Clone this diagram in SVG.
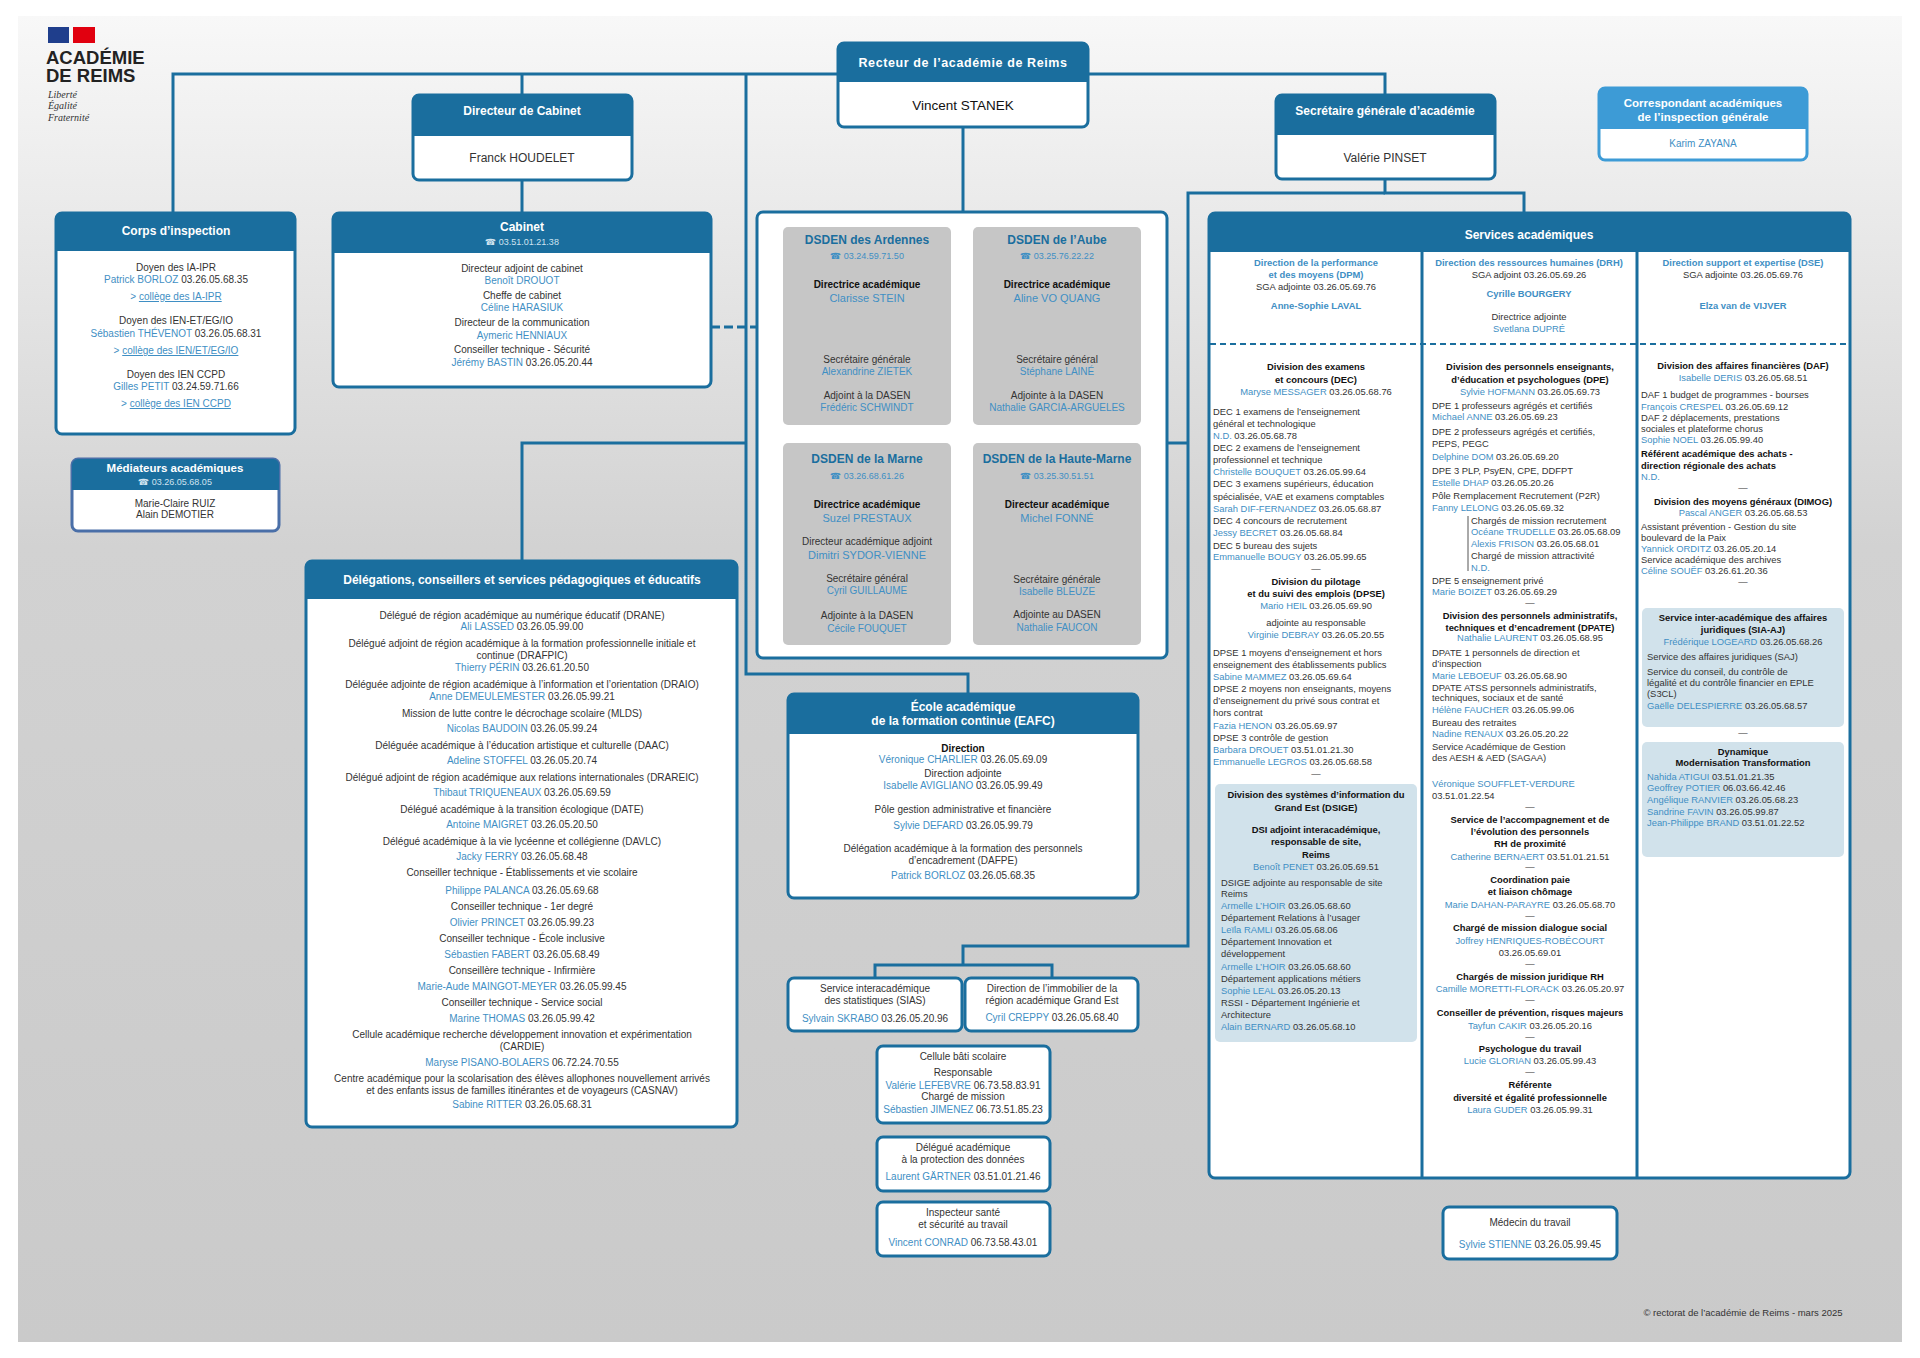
<svg xmlns="http://www.w3.org/2000/svg" width="1920" height="1358" viewBox="0 0 1920 1358">
<defs>
<linearGradient id="bg" x1="0" y1="0" x2="0" y2="1">
<stop offset="0" stop-color="#f8f8f8"/><stop offset="0.4" stop-color="#d2d2d2"/><stop offset="1" stop-color="#cacaca"/>
</linearGradient>
<style>
.box{fill:#fff;stroke:#1a6e9e;stroke-width:3}
.hd{fill:#1a6e9e}
.hd2{fill:#3d9bd6}
.g{fill:#c6c6c6}
.lb{fill:#d1e2eb}
.t{font-family:"Liberation Sans",Arial,sans-serif;font-size:10px;fill:#333;text-anchor:middle}
.s{font-size:9.4px}
.l{text-anchor:start}
.b{font-weight:bold}
.k{fill:#111}
.n{fill:#3f8fc4}
.lt{fill:#cfe3f0;font-size:9px}
.w{fill:#fff;font-weight:bold;font-size:12px}
.ti{fill:#1a6e9e;font-weight:bold;font-size:12px}
.u{text-decoration:underline}
.ph{font-family:"DejaVu Sans",sans-serif}
.c{fill:none;stroke:#1a6e9e;stroke-width:3}
</style>
</defs>
<rect width="1920" height="1358" fill="#fff"/>
<rect x="18" y="16" width="1884" height="1326" fill="url(#bg)"/>

<g id="logo">
<rect x="48" y="27" width="21" height="16" fill="#1f3e8c"/>
<rect x="73" y="27" width="22" height="16" fill="#e1000f"/>
<text x="46" y="64" font-family="Liberation Sans,Arial,sans-serif" font-weight="bold" font-size="18.5" fill="#222">ACADÉMIE</text>
<text x="46" y="82" font-family="Liberation Sans,Arial,sans-serif" font-weight="bold" font-size="18.5" fill="#222">DE REIMS</text>
<text x="48" y="98" font-family="Liberation Serif,serif" font-style="italic" font-size="10" fill="#333">Liberté</text>
<text x="48" y="109" font-family="Liberation Serif,serif" font-style="italic" font-size="10" fill="#333">Égalité</text>
<text x="48" y="121" font-family="Liberation Serif,serif" font-style="italic" font-size="10" fill="#333">Fraternité</text>
</g>

<g id="connectors" class="c">
<path d="M173,213 V74 H1385 V95"/>
<path d="M522,74 V95 M522,180 V213"/>
<path d="M746,74 V674 H968 V694"/>
<path d="M963,127 V212"/>
<path d="M711,327 H757" stroke-dasharray="9,4"/>
<path d="M522,561 V443 H746"/>
<path d="M1167,443 H1188"/>
<path d="M1385,179 V193 H1524 V213"/>
<path d="M1385,193 H1188 V946 H963 V965"/>
<path d="M875,978 V965 H1052 V978"/>
</g>

<g id="recteur">
<rect class="box" x="838" y="43" width="250" height="84" rx="6"/>
<rect class="hd" x="838" y="43" width="250" height="39" rx="6"/><rect class="hd" x="838" y="60" width="250" height="22"/>
<text class="t w" x="963" y="67" style="font-size:12.5px" letter-spacing="0.6">Recteur de l’académie de Reims</text>
<text class="t k" x="963" y="110" style="font-size:13.5px">Vincent STANEK</text>
</g>

<g id="dircab">
<rect class="box" x="413" y="95" width="219" height="85" rx="6"/>
<rect class="hd" x="413" y="95" width="219" height="41" rx="6"/><rect class="hd" x="413" y="112" width="219" height="24"/>
<text class="t w" x="522" y="115">Directeur de Cabinet</text>
<text class="t" x="522" y="162" style="font-size:12px">Franck HOUDELET</text>
</g>

<g id="sga">
<rect class="box" x="1276" y="95" width="219" height="84" rx="6"/>
<rect class="hd" x="1276" y="95" width="219" height="40" rx="6"/><rect class="hd" x="1276" y="112" width="219" height="23"/>
<text class="t w" x="1385" y="115">Secrétaire générale d’académie</text>
<text class="t" x="1385" y="162" style="font-size:12px">Valérie PINSET</text>
</g>

<g id="correspondant">
<rect x="1599" y="88" width="208" height="72" rx="6" fill="#fff" stroke="#3d9bd6" stroke-width="3"/>
<rect class="hd2" x="1599" y="88" width="208" height="41" rx="6"/><rect class="hd2" x="1599" y="105" width="208" height="24"/>
<text class="t w" x="1703" y="107" style="font-size:11.5px">Correspondant académiques</text>
<text class="t w" x="1703" y="121" style="font-size:11.5px">de l’inspection générale</text>
<text class="t n" x="1703" y="147">Karim ZAYANA</text>
</g>

<g id="corps">
<rect class="box" x="56" y="213" width="239" height="221" rx="6"/>
<rect class="hd" x="56" y="213" width="239" height="38" rx="6"/><rect class="hd" x="56" y="230" width="239" height="21"/>
<text class="t w" x="176" y="235">Corps d’inspection</text>
<text class="t" x="176" y="271">Doyen des IA-IPR</text>
<text class="t" x="176" y="283"><tspan class="n">Patrick BORLOZ</tspan> 03.26.05.68.35</text>
<text class="t n" x="176" y="300">&gt; <tspan class="u">collège des IA-IPR</tspan></text>
<text class="t" x="176" y="324">Doyen des IEN-ET/EG/IO</text>
<text class="t" x="176" y="337"><tspan class="n">Sébastien THÉVENOT</tspan> 03.26.05.68.31</text>
<text class="t n" x="176" y="354">&gt; <tspan class="u">collège des IEN/ET/EG/IO</tspan></text>
<text class="t" x="176" y="378">Doyen des IEN CCPD</text>
<text class="t" x="176" y="390"><tspan class="n">Gilles PETIT</tspan> 03.24.59.71.66</text>
<text class="t n" x="176" y="407">&gt; <tspan class="u">collège des IEN CCPD</tspan></text>
</g>

<g id="mediateurs">
<rect class="box" x="72" y="459" width="207" height="72" rx="6" style="stroke:#4a6fa8"/>
<rect class="hd" x="72" y="459" width="207" height="31" rx="6"/><rect class="hd" x="72" y="474" width="207" height="16"/>
<text class="t w" x="175" y="472" style="font-size:11.5px">Médiateurs académiques</text>
<text class="t lt" x="175" y="485"><tspan class="ph">☎</tspan> 03.26.05.68.05</text>
<text class="t" x="175" y="507">Marie-Claire RUIZ</text>
<text class="t" x="175" y="518">Alain DEMOTIER</text>
</g>

<g id="cabinet">
<rect class="box" x="333" y="213" width="378" height="174" rx="6"/>
<rect class="hd" x="333" y="213" width="378" height="40" rx="6"/><rect class="hd" x="333" y="230" width="378" height="23"/>
<text class="t w" x="522" y="231">Cabinet</text>
<text class="t lt" x="522" y="245"><tspan class="ph">☎</tspan> 03.51.01.21.38</text>
<text class="t" x="522" y="272">Directeur adjoint de cabinet</text>
<text class="t n" x="522" y="284">Benoît DROUOT</text>
<text class="t" x="522" y="299">Cheffe de cabinet</text>
<text class="t n" x="522" y="311">Céline HARASIUK</text>
<text class="t" x="522" y="326">Directeur de la communication</text>
<text class="t n" x="522" y="339">Aymeric HENNIAUX</text>
<text class="t" x="522" y="353">Conseiller technique - Sécurité</text>
<text class="t" x="522" y="366"><tspan class="n">Jérémy BASTIN</tspan> 03.26.05.20.44</text>
</g>

<g id="dsden">
<rect x="757" y="212" width="410" height="446" rx="6" fill="#fff" stroke="#1a6e9e" stroke-width="3"/>
<rect class="g" x="783" y="227" width="168" height="198" rx="5"/>
<rect class="g" x="973" y="227" width="168" height="198" rx="5"/>
<rect class="g" x="783" y="443" width="168" height="202" rx="5"/>
<rect class="g" x="973" y="443" width="168" height="202" rx="5"/>
<text class="t ti" x="867" y="244">DSDEN des Ardennes</text>
<text class="t n" x="867" y="259" style="font-size:9px"><tspan class="ph">☎</tspan> 03.24.59.71.50</text>
<text class="t b k" x="867" y="288">Directrice académique</text>
<text class="t n" x="867" y="302" style="font-size:11px">Clarisse STEIN</text>
<text class="t" x="867" y="363">Secrétaire générale</text>
<text class="t n" x="867" y="375">Alexandrine ZIETEK</text>
<text class="t" x="867" y="399">Adjoint à la DASEN</text>
<text class="t n" x="867" y="411">Frédéric SCHWINDT</text>

<text class="t ti" x="1057" y="244">DSDEN de l’Aube</text>
<text class="t n" x="1057" y="259" style="font-size:9px"><tspan class="ph">☎</tspan> 03.25.76.22.22</text>
<text class="t b k" x="1057" y="288">Directrice académique</text>
<text class="t n" x="1057" y="302" style="font-size:11px">Aline VO QUANG</text>
<text class="t" x="1057" y="363">Secrétaire général</text>
<text class="t n" x="1057" y="375">Stéphane LAINÉ</text>
<text class="t" x="1057" y="399">Adjointe à la DASEN</text>
<text class="t n" x="1057" y="411">Nathalie GARCIA-ARGUELES</text>

<text class="t ti" x="867" y="463">DSDEN de la Marne</text>
<text class="t n" x="867" y="479" style="font-size:9px"><tspan class="ph">☎</tspan> 03.26.68.61.26</text>
<text class="t b k" x="867" y="508">Directrice académique</text>
<text class="t n" x="867" y="522" style="font-size:11px">Suzel PRESTAUX</text>
<text class="t" x="867" y="545">Directeur académique adjoint</text>
<text class="t n" x="867" y="559" style="font-size:11px">Dimitri SYDOR-VIENNE</text>
<text class="t" x="867" y="582">Secrétaire général</text>
<text class="t n" x="867" y="594">Cyril GUILLAUME</text>
<text class="t" x="867" y="619">Adjointe à la DASEN</text>
<text class="t n" x="867" y="632">Cécile FOUQUET</text>

<text class="t ti" x="1057" y="463">DSDEN de la Haute-Marne</text>
<text class="t n" x="1057" y="479" style="font-size:9px"><tspan class="ph">☎</tspan> 03.25.30.51.51</text>
<text class="t b k" x="1057" y="508">Directeur académique</text>
<text class="t n" x="1057" y="522" style="font-size:11px">Michel FONNÉ</text>
<text class="t" x="1057" y="583">Secrétaire générale</text>
<text class="t n" x="1057" y="595">Isabelle BLEUZE</text>
<text class="t" x="1057" y="618">Adjointe au DASEN</text>
<text class="t n" x="1057" y="631">Nathalie FAUCON</text>
</g>

<g id="delegations">
<rect class="box" x="306" y="561" width="431" height="566" rx="6"/>
<rect class="hd" x="306" y="561" width="431" height="38" rx="6"/><rect class="hd" x="306" y="578" width="431" height="21"/>
<text class="t w" x="522" y="584">Délégations, conseillers et services pédagogiques et éducatifs</text>
<text class="t" x="522" y="619">Délégué de région académique au numérique éducatif (DRANE)</text>
<text class="t" x="522" y="630"><tspan class="n">Ali LASSED</tspan> 03.26.05.99.00</text>
<text class="t" x="522" y="647">Délégué adjoint de région académique à la formation professionnelle initiale et</text>
<text class="t" x="522" y="659">continue (DRAFPIC)</text>
<text class="t" x="522" y="671"><tspan class="n">Thierry PÉRIN</tspan> 03.26.61.20.50</text>
<text class="t" x="522" y="688">Déléguée adjointe de région académique à l’information et l’orientation (DRAIO)</text>
<text class="t" x="522" y="700"><tspan class="n">Anne DEMEULEMESTER</tspan> 03.26.05.99.21</text>
<text class="t" x="522" y="717">Mission de lutte contre le décrochage scolaire (MLDS)</text>
<text class="t" x="522" y="732"><tspan class="n">Nicolas BAUDOIN</tspan> 03.26.05.99.24</text>
<text class="t" x="522" y="749">Déléguée académique à l’éducation artistique et culturelle (DAAC)</text>
<text class="t" x="522" y="764"><tspan class="n">Adeline STOFFEL</tspan> 03.26.05.20.74</text>
<text class="t" x="522" y="781">Délégué adjoint de région académique aux relations internationales (DRAREIC)</text>
<text class="t" x="522" y="796"><tspan class="n">Thibaut TRIQUENEAUX</tspan> 03.26.05.69.59</text>
<text class="t" x="522" y="813">Délégué académique à la transition écologique (DATE)</text>
<text class="t" x="522" y="828"><tspan class="n">Antoine MAIGRET</tspan> 03.26.05.20.50</text>
<text class="t" x="522" y="845">Délégué académique à la vie lycéenne et collégienne (DAVLC)</text>
<text class="t" x="522" y="860"><tspan class="n">Jacky FERRY</tspan> 03.26.05.68.48</text>
<text class="t" x="522" y="876">Conseiller technique - Établissements et vie scolaire</text>
<text class="t" x="522" y="894"><tspan class="n">Philippe PALANCA</tspan> 03.26.05.69.68</text>
<text class="t" x="522" y="910">Conseiller technique - 1er degré</text>
<text class="t" x="522" y="926"><tspan class="n">Olivier PRINCET</tspan> 03.26.05.99.23</text>
<text class="t" x="522" y="942">Conseiller technique - École inclusive</text>
<text class="t" x="522" y="958"><tspan class="n">Sébastien FABERT</tspan> 03.26.05.68.49</text>
<text class="t" x="522" y="974">Conseillère technique - Infirmière</text>
<text class="t" x="522" y="990"><tspan class="n">Marie-Aude MAINGOT-MEYER</tspan> 03.26.05.99.45</text>
<text class="t" x="522" y="1006">Conseiller technique - Service social</text>
<text class="t" x="522" y="1022"><tspan class="n">Marine THOMAS</tspan> 03.26.05.99.42</text>
<text class="t" x="522" y="1038">Cellule académique recherche développement innovation et expérimentation</text>
<text class="t" x="522" y="1050">(CARDIE)</text>
<text class="t" x="522" y="1066"><tspan class="n">Maryse PISANO-BOLAERS</tspan> 06.72.24.70.55</text>
<text class="t" x="522" y="1082">Centre académique pour la scolarisation des élèves allophones nouvellement arrivés</text>
<text class="t" x="522" y="1094">et des enfants issus de familles itinérantes et de voyageurs (CASNAV)</text>
<text class="t" x="522" y="1108"><tspan class="n">Sabine RITTER</tspan> 03.26.05.68.31</text>
</g>

<g id="eafc">
<rect class="box" x="788" y="694" width="350" height="204" rx="6"/>
<rect class="hd" x="788" y="694" width="350" height="40" rx="6"/><rect class="hd" x="788" y="711" width="350" height="23"/>
<text class="t w" x="963" y="711">École académique</text>
<text class="t w" x="963" y="725">de la formation continue (EAFC)</text>
<text class="t b k" x="963" y="752">Direction</text>
<text class="t" x="963" y="763"><tspan class="n">Véronique CHARLIER</tspan> 03.26.05.69.09</text>
<text class="t" x="963" y="777">Direction adjointe</text>
<text class="t" x="963" y="789"><tspan class="n">Isabelle AVIGLIANO</tspan> 03.26.05.99.49</text>
<text class="t" x="963" y="813">Pôle gestion administrative et financière</text>
<text class="t" x="963" y="829"><tspan class="n">Sylvie DEFARD</tspan> 03.26.05.99.79</text>
<text class="t" x="963" y="852">Délégation académique à la formation des personnels</text>
<text class="t" x="963" y="864">d’encadrement (DAFPE)</text>
<text class="t" x="963" y="879"><tspan class="n">Patrick BORLOZ</tspan> 03.26.05.68.35</text>
</g>

<g id="sias">
<rect class="box" x="788" y="978" width="174" height="53" rx="6"/>
<text class="t" x="875" y="992">Service interacadémique</text>
<text class="t" x="875" y="1004">des statistiques (SIAS)</text>
<text class="t" x="875" y="1022"><tspan class="n">Sylvain SKRABO</tspan> 03.26.05.20.96</text>
</g>
<g id="immobilier">
<rect class="box" x="965" y="978" width="173" height="53" rx="6"/>
<text class="t" x="1052" y="992">Direction de l’immobilier de la</text>
<text class="t" x="1052" y="1004">région académique Grand Est</text>
<text class="t" x="1052" y="1021"><tspan class="n">Cyril CREPPY</tspan> 03.26.05.68.40</text>
</g>
<g id="bati">
<rect class="box" x="877" y="1046" width="173" height="77" rx="6"/>
<text class="t" x="963" y="1060">Cellule bâti scolaire</text>
<text class="t" x="963" y="1076">Responsable</text>
<text class="t" x="963" y="1089"><tspan class="n">Valérie LEFEBVRE</tspan> 06.73.58.83.91</text>
<text class="t" x="963" y="1100">Chargé de mission</text>
<text class="t" x="963" y="1113"><tspan class="n">Sébastien JIMENEZ</tspan> 06.73.51.85.23</text>
</g>
<g id="donnees">
<rect class="box" x="877" y="1137" width="173" height="54" rx="6"/>
<text class="t" x="963" y="1151">Délégué académique</text>
<text class="t" x="963" y="1163">à la protection des données</text>
<text class="t" x="963" y="1180"><tspan class="n">Laurent GÄRTNER</tspan> 03.51.01.21.46</text>
</g>
<g id="inspecteur">
<rect class="box" x="877" y="1202" width="173" height="54" rx="6"/>
<text class="t" x="963" y="1216">Inspecteur santé</text>
<text class="t" x="963" y="1228">et sécurité au travail</text>
<text class="t" x="963" y="1246"><tspan class="n">Vincent CONRAD</tspan> 06.73.58.43.01</text>
</g>

<g id="services">
<rect class="box" x="1209" y="213" width="641" height="965" rx="6"/>
<rect class="hd" x="1209" y="213" width="641" height="39" rx="6"/><rect class="hd" x="1209" y="230" width="641" height="22"/>
<text class="t w" x="1529" y="239">Services académiques</text>
<path d="M1422,252 V1178 M1637,252 V1178" stroke="#1a6e9e" stroke-width="3"/>
<path d="M1210,344 H1849" stroke="#1a6e9e" stroke-width="2" stroke-dasharray="6,4"/>
<text x="1316" y="266" class="t s n b">Direction de la performance</text>
<text x="1316" y="278" class="t s n b">et des moyens (DPM)</text>
<text x="1316" y="290" class="t s">SGA adjointe 03.26.05.69.76</text>
<text x="1316" y="309" class="t s n b">Anne-Sophie LAVAL</text>
<text x="1529" y="266" class="t s n b">Direction des ressources humaines (DRH)</text>
<text x="1529" y="278" class="t s">SGA adjoint 03.26.05.69.26</text>
<text x="1529" y="297" class="t s n b">Cyrille BOURGERY</text>
<text x="1529" y="320" class="t s">Directrice adjointe</text>
<text x="1529" y="332" class="t s n">Svetlana DUPRÉ</text>
<text x="1743" y="266" class="t s n b">Direction support et expertise (DSE)</text>
<text x="1743" y="278" class="t s">SGA adjointe 03.26.05.69.76</text>
<text x="1743" y="309" class="t s n b">Elza van de VIJVER</text>
</g>

<g id="col-dpm">
<text x="1316" y="370" class="t s b k">Division des examens</text>
<text x="1316" y="383" class="t s b k">et concours (DEC)</text>
<text x="1316" y="395" class="t s"><tspan class="n">Maryse MESSAGER</tspan> 03.26.05.68.76</text>
<text x="1213" y="415" class="t s l">DEC 1 examens de l’enseignement</text>
<text x="1213" y="427" class="t s l">général et technologique</text>
<text x="1213" y="439" class="t s l"><tspan class="n">N.D.</tspan> 03.26.05.68.78</text>
<text x="1213" y="451" class="t s l">DEC 2 examens de l’enseignement</text>
<text x="1213" y="463" class="t s l">professionnel et technique</text>
<text x="1213" y="475" class="t s l"><tspan class="n">Christelle BOUQUET</tspan> 03.26.05.99.64</text>
<text x="1213" y="487" class="t s l">DEC 3 examens supérieurs, éducation</text>
<text x="1213" y="500" class="t s l">spécialisée, VAE et examens comptables</text>
<text x="1213" y="512" class="t s l"><tspan class="n">Sarah DIF-FERNANDEZ</tspan> 03.26.05.68.87</text>
<text x="1213" y="524" class="t s l">DEC 4 concours de recrutement</text>
<text x="1213" y="536" class="t s l"><tspan class="n">Jessy BECRET</tspan> 03.26.05.68.84</text>
<text x="1213" y="549" class="t s l">DEC 5 bureau des sujets</text>
<text x="1213" y="560" class="t s l"><tspan class="n">Emmanuelle BOUGY</tspan> 03.26.05.99.65</text>
<text x="1316" y="572" class="t s">—</text>
<text x="1316" y="585" class="t s b k">Division du pilotage</text>
<text x="1316" y="597" class="t s b k">et du suivi des emplois (DPSE)</text>
<text x="1316" y="609" class="t s"><tspan class="n">Mario HEIL</tspan> 03.26.05.69.90</text>
<text x="1316" y="626" class="t s">adjointe au responsable</text>
<text x="1316" y="638" class="t s"><tspan class="n">Virginie DEBRAY</tspan> 03.26.05.20.55</text>
<text x="1213" y="656" class="t s l">DPSE 1 moyens d’enseignement et hors</text>
<text x="1213" y="668" class="t s l">enseignement des établissements publics</text>
<text x="1213" y="680" class="t s l"><tspan class="n">Sabine MAMMEZ</tspan> 03.26.05.69.64</text>
<text x="1213" y="692" class="t s l">DPSE 2 moyens non enseignants, moyens</text>
<text x="1213" y="704" class="t s l">d’enseignement du privé sous contrat et</text>
<text x="1213" y="716" class="t s l">hors contrat</text>
<text x="1213" y="729" class="t s l"><tspan class="n">Fazia HENON</tspan> 03.26.05.69.97</text>
<text x="1213" y="741" class="t s l">DPSE 3 contrôle de gestion</text>
<text x="1213" y="753" class="t s l"><tspan class="n">Barbara DROUET</tspan> 03.51.01.21.30</text>
<text x="1213" y="765" class="t s l"><tspan class="n">Emmanuelle LEGROS</tspan> 03.26.05.68.58</text>
<text x="1316" y="777" class="t s">—</text>
<rect class="lb" x="1215" y="784" width="202" height="258" rx="5"/>
<text x="1316" y="798" class="t s b k">Division des systèmes d’information du</text>
<text x="1316" y="811" class="t s b k">Grand Est (DSIGE)</text>
<text x="1316" y="833" class="t s b k">DSI adjoint interacadémique,</text>
<text x="1316" y="845" class="t s b k">responsable de site,</text>
<text x="1316" y="858" class="t s b k">Reims</text>
<text x="1316" y="870" class="t s"><tspan class="n">Benoît PENET</tspan> 03.26.05.69.51</text>
<text x="1221" y="886" class="t s l">DSIGE adjointe au responsable de site</text>
<text x="1221" y="897" class="t s l">Reims</text>
<text x="1221" y="909" class="t s l"><tspan class="n">Armelle L’HOIR</tspan> 03.26.05.68.60</text>
<text x="1221" y="921" class="t s l">Département Relations à l’usager</text>
<text x="1221" y="933" class="t s l"><tspan class="n">Leïla RAMLI</tspan> 03.26.05.68.06</text>
<text x="1221" y="945" class="t s l">Département Innovation et</text>
<text x="1221" y="957" class="t s l">développement</text>
<text x="1221" y="970" class="t s l"><tspan class="n">Armelle L’HOIR</tspan> 03.26.05.68.60</text>
<text x="1221" y="982" class="t s l">Département applications métiers</text>
<text x="1221" y="994" class="t s l"><tspan class="n">Sophie LEAL</tspan> 03.26.05.20.13</text>
<text x="1221" y="1006" class="t s l">RSSI - Département Ingénierie et</text>
<text x="1221" y="1018" class="t s l">Architecture</text>
<text x="1221" y="1030" class="t s l"><tspan class="n">Alain BERNARD</tspan> 03.26.05.68.10</text>
</g>

<g id="col-drh">
<text x="1530" y="370" class="t s b k">Division des personnels enseignants,</text>
<text x="1530" y="383" class="t s b k">d’éducation et psychologues (DPE)</text>
<text x="1530" y="395" class="t s"><tspan class="n">Sylvie HOFMANN</tspan> 03.26.05.69.73</text>
<text x="1432" y="409" class="t s l">DPE 1 professeurs agrégés et certifiés</text>
<text x="1432" y="420" class="t s l"><tspan class="n">Michael ANNE</tspan> 03.26.05.69.23</text>
<text x="1432" y="435" class="t s l">DPE 2 professeurs agrégés et certifiés,</text>
<text x="1432" y="447" class="t s l">PEPS, PEGC</text>
<text x="1432" y="460" class="t s l"><tspan class="n">Delphine DOM</tspan> 03.26.05.69.20</text>
<text x="1432" y="474" class="t s l">DPE 3 PLP, PsyEN, CPE, DDFPT</text>
<text x="1432" y="486" class="t s l"><tspan class="n">Estelle DHAP</tspan> 03.26.05.20.26</text>
<text x="1432" y="499" class="t s l">Pôle Remplacement Recrutement (P2R)</text>
<text x="1432" y="511" class="t s l"><tspan class="n">Fanny LELONG</tspan> 03.26.05.69.32</text>
<path d="M1468,516 V571" stroke="#555" stroke-width="1"/>
<text x="1471" y="524" class="t s l">Chargés de mission recrutement</text>
<text x="1471" y="535" class="t s l"><tspan class="n">Océane TRUDELLE</tspan> 03.26.05.68.09</text>
<text x="1471" y="547" class="t s l"><tspan class="n">Alexis FRISON</tspan> 03.26.05.68.01</text>
<text x="1471" y="559" class="t s l">Chargé de mission attractivité</text>
<text x="1471" y="571" class="t s l n">N.D.</text>
<text x="1432" y="584" class="t s l">DPE 5 enseignement privé</text>
<text x="1432" y="595" class="t s l"><tspan class="n">Marie BOIZET</tspan> 03.26.05.69.29</text>
<text x="1530" y="606" class="t s">—</text>
<text x="1530" y="619" class="t s b k">Division des personnels administratifs,</text>
<text x="1530" y="631" class="t s b k">techniques et d’encadrement (DPATE)</text>
<text x="1530" y="641" class="t s"><tspan class="n">Nathalie LAURENT</tspan> 03.26.05.68.95</text>
<text x="1432" y="656" class="t s l">DPATE 1 personnels de direction et</text>
<text x="1432" y="667" class="t s l">d’inspection</text>
<text x="1432" y="679" class="t s l"><tspan class="n">Marie LEBOEUF</tspan> 03.26.05.68.90</text>
<text x="1432" y="691" class="t s l">DPATE ATSS personnels administratifs,</text>
<text x="1432" y="701" class="t s l">techniques, sociaux et de santé</text>
<text x="1432" y="713" class="t s l"><tspan class="n">Hélène FAUCHER</tspan> 03.26.05.99.06</text>
<text x="1432" y="726" class="t s l">Bureau des retraites</text>
<text x="1432" y="737" class="t s l"><tspan class="n">Nadine RENAUX</tspan> 03.26.05.20.22</text>
<text x="1432" y="750" class="t s l">Service Académique de Gestion</text>
<text x="1432" y="761" class="t s l">des AESH &amp; AED (SAGAA)</text>
<text x="1432" y="787" class="t s l n">Véronique SOUFFLET-VERDURE</text>
<text x="1432" y="799" class="t s l">03.51.01.22.54</text>
<text x="1530" y="810" class="t s">—</text>
<text x="1530" y="823" class="t s b k">Service de l’accompagnement et de</text>
<text x="1530" y="835" class="t s b k">l’évolution des personnels</text>
<text x="1530" y="847" class="t s b k">RH de proximité</text>
<text x="1530" y="860" class="t s"><tspan class="n">Catherine BERNAERT</tspan> 03.51.01.21.51</text>
<text x="1530" y="870" class="t s">—</text>
<text x="1530" y="883" class="t s b k">Coordination paie</text>
<text x="1530" y="895" class="t s b k">et liaison chômage</text>
<text x="1530" y="908" class="t s"><tspan class="n">Marie DAHAN-PARAYRE</tspan> 03.26.05.68.70</text>
<text x="1530" y="919" class="t s">—</text>
<text x="1530" y="931" class="t s b k">Chargé de mission dialogue social</text>
<text x="1530" y="944" class="t s n">Joffrey HENRIQUES-ROBÉCOURT</text>
<text x="1530" y="956" class="t s">03.26.05.69.01</text>
<text x="1530" y="967" class="t s">—</text>
<text x="1530" y="980" class="t s b k">Chargés de mission juridique RH</text>
<text x="1530" y="992" class="t s"><tspan class="n">Camille MORETTI-FLORACK</tspan> 03.26.05.20.97</text>
<text x="1530" y="1003" class="t s">—</text>
<text x="1530" y="1016" class="t s b k">Conseiller de prévention, risques majeurs</text>
<text x="1530" y="1029" class="t s"><tspan class="n">Tayfun CAKIR</tspan> 03.26.05.20.16</text>
<text x="1530" y="1040" class="t s">—</text>
<text x="1530" y="1052" class="t s b k">Psychologue du travail</text>
<text x="1530" y="1064" class="t s"><tspan class="n">Lucie GLORIAN</tspan> 03.26.05.99.43</text>
<text x="1530" y="1075" class="t s">—</text>
<text x="1530" y="1088" class="t s b k">Référente</text>
<text x="1530" y="1101" class="t s b k">diversité et égalité professionnelle</text>
<text x="1530" y="1113" class="t s"><tspan class="n">Laura GUDER</tspan> 03.26.05.99.31</text>
</g>

<g id="col-dse">
<text x="1743" y="369" class="t s b k">Division des affaires financières (DAF)</text>
<text x="1743" y="381" class="t s"><tspan class="n">Isabelle DERIS</tspan> 03.26.05.68.51</text>
<text x="1641" y="398" class="t s l">DAF 1 budget de programmes - bourses</text>
<text x="1641" y="410" class="t s l"><tspan class="n">François CRESPEL</tspan> 03.26.05.69.12</text>
<text x="1641" y="421" class="t s l">DAF 2 déplacements, prestations</text>
<text x="1641" y="432" class="t s l">sociales et plateforme chorus</text>
<text x="1641" y="443" class="t s l"><tspan class="n">Sophie NOEL</tspan> 03.26.05.99.40</text>
<text x="1641" y="457" class="t s l b k">Référent académique des achats -</text>
<text x="1641" y="469" class="t s l b k">direction régionale des achats</text>
<text x="1641" y="480" class="t s l n">N.D.</text>
<text x="1743" y="491" class="t s">—</text>
<text x="1743" y="505" class="t s b k">Division des moyens généraux (DIMOG)</text>
<text x="1743" y="516" class="t s"><tspan class="n">Pascal ANGER</tspan> 03.26.05.68.53</text>
<text x="1641" y="530" class="t s l">Assistant prévention - Gestion du site</text>
<text x="1641" y="541" class="t s l">boulevard de la Paix</text>
<text x="1641" y="552" class="t s l"><tspan class="n">Yannick ORDITZ</tspan> 03.26.05.20.14</text>
<text x="1641" y="563" class="t s l">Service académique des archives</text>
<text x="1641" y="574" class="t s l"><tspan class="n">Céline SOUËF</tspan> 03.26.61.20.36</text>
<text x="1743" y="585" class="t s">—</text>
<rect class="lb" x="1642" y="608" width="202" height="119" rx="5"/>
<text x="1743" y="621" class="t s b k">Service inter-académique des affaires</text>
<text x="1743" y="633" class="t s b k">juridiques (SIA-AJ)</text>
<text x="1743" y="645" class="t s"><tspan class="n">Frédérique LOGEARD</tspan> 03.26.05.68.26</text>
<text x="1647" y="660" class="t s l">Service des affaires juridiques (SAJ)</text>
<text x="1647" y="675" class="t s l">Service du conseil, du contrôle de</text>
<text x="1647" y="686" class="t s l">légalité et du contrôle financier en EPLE</text>
<text x="1647" y="697" class="t s l">(S3CL)</text>
<text x="1647" y="709" class="t s l"><tspan class="n">Gaëlle DELESPIERRE</tspan> 03.26.05.68.57</text>
<text x="1743" y="736" class="t s">—</text>
<rect class="lb" x="1642" y="742" width="202" height="115" rx="5"/>
<text x="1743" y="755" class="t s b k">Dynamique</text>
<text x="1743" y="766" class="t s b k">Modernisation Transformation</text>
<text x="1647" y="780" class="t s l"><tspan class="n">Nahida ATIGUI</tspan> 03.51.01.21.35</text>
<text x="1647" y="791" class="t s l"><tspan class="n">Geoffrey POTIER</tspan> 06.03.66.42.46</text>
<text x="1647" y="803" class="t s l"><tspan class="n">Angélique RANVIER</tspan> 03.26.05.68.23</text>
<text x="1647" y="815" class="t s l"><tspan class="n">Sandrine FAVIN</tspan> 03.26.05.99.87</text>
<text x="1647" y="826" class="t s l"><tspan class="n">Jean-Philippe BRAND</tspan> 03.51.01.22.52</text>
</g>

<g id="medecin">
<rect class="box" x="1443" y="1207" width="174" height="52" rx="6"/>
<text class="t" x="1530" y="1226">Médecin du travail</text>
<text class="t" x="1530" y="1248"><tspan class="n">Sylvie STIENNE</tspan> 03.26.05.99.45</text>
</g>

<text class="t" x="1743" y="1316" style="font-size:9.5px">© rectorat de l’académie de Reims - mars 2025</text>
</svg>
